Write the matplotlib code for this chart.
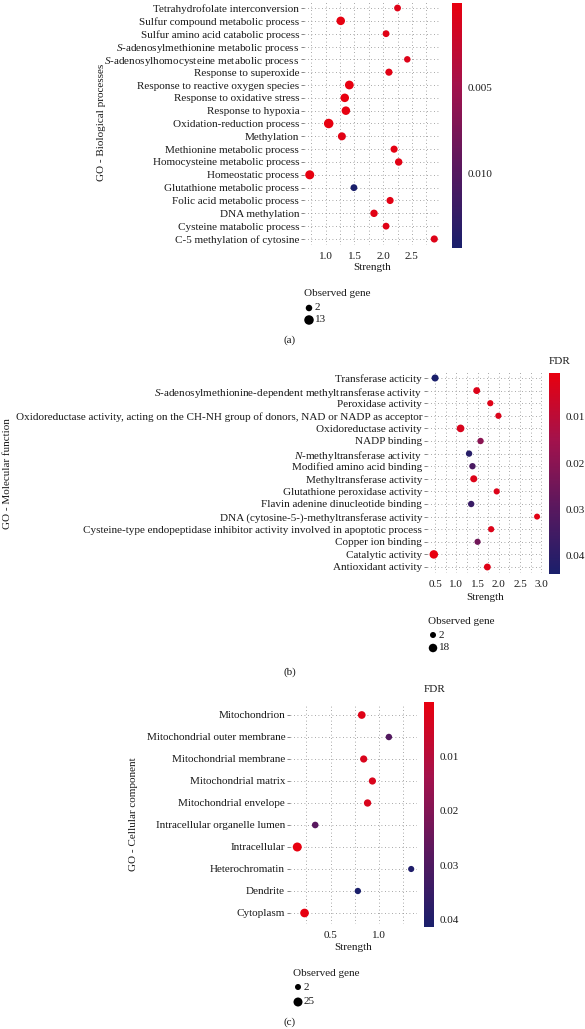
import numpy as np
import matplotlib
matplotlib.use("Agg")
import matplotlib.pyplot as plt
from matplotlib.colors import LinearSegmentedColormap, Normalize
from matplotlib.cm import ScalarMappable

plt.rcParams['font.family'] = ['Liberation Serif', 'DejaVu Serif']
plt.rcParams['mathtext.fontset'] = 'custom'
plt.rcParams['mathtext.rm'] = 'Liberation Serif'
plt.rcParams['mathtext.it'] = 'Liberation Serif:italic'

# ---------------- data (top-to-bottom order) ----------------
bp_terms = ["Tetrahydrofolate interconversion", "Sulfur compound metabolic process",
            "Sulfur amino acid catabolic process", r"$\mathit{S}$-adenosylmethionine metabolic process",
            r"$\mathit{S}$-adenosylhomocysteine metabolic process", "Response to superoxide",
            "Response to reactive oxygen species", "Response to oxidative stress",
            "Response to hypoxia", "Oxidation-reduction process", "Methylation",
            "Methionine metabolic process", "Homocysteine metabolic process",
            "Homeostatic process", "Glutathione metabolic process",
            "Folic acid metabolic process", "DNA methylation",
            "Cysteine matabolic process", "C-5 methylation of cytosine"]
bp_strength = [2.25, 1.26, 2.05, np.nan, 2.42, 2.10, 1.41, 1.33, 1.35, 1.05, 1.28,
               2.19, 2.27, 0.72, 1.49, 2.12, 1.84, 2.05, 2.89]
bp_genes = [3, 9, 3, 2, 2, 4, 10, 9, 9, 13, 7, 4, 5, 11, 3, 4, 5, 3, 4]
bp_fdr = [0.0008, 0.0003, 0.0006, 0.0010, 0.0009, 0.0005, 0.0002, 0.0001, 0.0003,
          0.0002, 0.0006, 0.0004, 0.0005, 0.0002, 0.0143, 0.0005, 0.0006, 0.0007, 0.0008]

mf_terms = ["Transferase acticity", r"$\mathit{S}$-adenosylmethionine-dependent methyltransferase activity",
            "Peroxidase activity",
            "Oxidoreductase activity, acting on the CH-NH group of donors, NAD or NADP as acceptor",
            "Oxidoreductase activity", "NADP binding", r"$\mathit{N}$-methyltransferase activity",
            "Modified amino acid binding", "Methyltransferase activity",
            "Glutathione peroxidase activity", "Flavin adenine dinucleotide binding",
            "DNA (cytosine-5-)-methyltransferase activity",
            "Cysteine-type endopeptidase inhibitor activity involved in apoptotic process",
            "Copper ion binding", "Catalytic activity", "Antioxidant activity"]
mf_strength = [0.50, 1.48, 1.80, 1.99, 1.10, 1.57, 1.30, 1.38, 1.41, 1.95, 1.35,
               2.90, 1.82, 1.50, 0.47, 1.73]
mf_genes = [8, 7, 3, 3, 12, 4, 4, 4, 8, 3, 4, 2, 3, 3, 18, 7]
mf_fdr = [0.0440, 0.0030, 0.0025, 0.0035, 0.0040, 0.0200, 0.0410, 0.0330, 0.0030,
          0.0030, 0.0370, 0.0020, 0.0030, 0.0250, 0.0005, 0.0025]

cc_terms = ["Mitochondrion", "Mitochondrial outer membrane", "Mitochondrial membrane",
            "Mitochondrial matrix", "Mitochondrial envelope", "Intracellular organelle lumen",
            "Intracellular", "Heterochromatin", "Dendrite", "Cytoplasm"]
cc_strength = [0.82, 1.10, 0.84, 0.93, 0.88, 0.34, 0.155, 1.33, 0.78, 0.23]
cc_genes = [14, 5, 10, 10, 11, 6, 25, 3, 4, 22]
cc_fdr = [0.0020, 0.0290, 0.0030, 0.0030, 0.0030, 0.0280, 0.0001, 0.0400, 0.0413, 0.0005]

# ---------------- helpers ----------------
W, H = 585, 1029
fig = plt.figure(figsize=(W / 100, H / 100), dpi=100)


def rect(x0, y0, x1, y1):
    return [x0 / W, 1 - y1 / H, (x1 - x0) / W, (y1 - y0) / H]


def fx(x):
    return x / W


def fy(y):
    return 1 - y / H


cmap = LinearSegmentedColormap.from_list("fdr", ["#E8000F", "#A3124C", "#5A185E", "#1A1F6B"])
TXT = "#1a1a1a"
FS = 8.0
GRID = dict(color="#8a8a8a", linewidth=0.6, linestyle=(0, (1, 3.2)))


def size_of(n, nmin, nmax, dmin, dmax):
    amin, amax = dmin ** 2, dmax ** 2
    a = amin + (np.asarray(n, float) - nmin) / (nmax - nmin) * (amax - amin)
    d_pt = np.sqrt(a) / 1.389
    return d_pt ** 2


def panel(terms, strength, genes, fdr, ax_px, xlim, majors, minors, cb_px, cb_ticks, cb_fmt,
          fdr_title, ylabel, ylabel_xy, xlab_y, leg_px, leg_labels, leg_gap, tag, tag_y, dmin, dmax):
    n = len(terms)
    ax = fig.add_axes(rect(*ax_px))
    ypos = np.arange(n)[::-1]
    norm = Normalize(vmin=min(fdr), vmax=max(fdr))
    nmin, nmax = leg_labels
    ax.set_xlim(*xlim)
    ax.set_ylim(-0.5, n - 0.5)
    for y in ypos:
        ax.axhline(y, zorder=0, **GRID)
    for x in list(majors) + list(minors):
        ax.axvline(x, zorder=0, **GRID)
    ax.scatter(strength, ypos, s=size_of(genes, nmin, nmax, dmin, dmax),
               c=cmap(norm(np.asarray(fdr))), edgecolors="none", zorder=3)
    for s in ax.spines.values():
        s.set_visible(False)
    ax.set_yticks(ypos)
    ax.set_yticklabels(terms, fontsize=FS, color=TXT)
    ax.set_xticks(majors)
    ax.set_xticklabels([f"{m:.1f}" for m in majors], fontsize=FS, color=TXT)
    ax.tick_params(axis="both", length=2.0, width=0.5, color="#555555", pad=1.5)
    ax.tick_params(axis="x", length=0, pad=5)
    ax.set_facecolor("none")
    cx = (ax_px[0] + ax_px[2]) / 2
    fig.text(fx(cx), fy(xlab_y), "Strength", ha="center", va="center", fontsize=FS, color=TXT)
    fig.text(fx(ylabel_xy[0]), fy(ylabel_xy[1]), ylabel, rotation=90, ha="center", va="center",
             fontsize=FS, color=TXT)
    cax = fig.add_axes(rect(*cb_px))
    sm = ScalarMappable(norm=norm, cmap=cmap)
    cb = fig.colorbar(sm, cax=cax)
    cb.outline.set_visible(False)
    cax.invert_yaxis()
    cb.set_ticks(cb_ticks)
    cb.set_ticklabels([cb_fmt.format(t) for t in cb_ticks])
    cax.tick_params(length=0, labelsize=FS, labelcolor=TXT, pad=4)
    if fdr_title:
        fig.text(fx(cb_px[0]), fy(cb_px[1] - 12), "FDR", ha="left", va="center",
                 fontsize=FS, color=TXT)
    lx, ly = leg_px
    fig.text(fx(lx), fy(ly), "Observed gene", ha="left", va="center", fontsize=FS, color=TXT)
    lax = fig.add_axes([0, 0, 1, 1], facecolor="none")
    lax.set_xlim(0, W)
    lax.set_ylim(H, 0)
    lax.axis("off")
    for i, v in enumerate(leg_labels):
        yy = ly + 14 + i * leg_gap
        lax.scatter([lx + 5], [yy], s=size_of([v], nmin, nmax, dmin, dmax), color="black",
                    edgecolors="none")
        lax.text(lx + 11, yy, str(v), ha="left", va="center", fontsize=FS, color=TXT)
    fig.text(fx(290), fy(tag_y), tag, ha="center", va="center", fontsize=FS, color=TXT)
    return ax


panel(bp_terms, bp_strength, bp_genes, bp_fdr,
      ax_px=(304, 1.6, 440, 245.4), xlim=(0.62, 2.99),
      majors=[1.0, 1.5, 2.0, 2.5], minors=[0.75, 1.25, 1.75, 2.25, 2.75],
      cb_px=(452, 3, 462, 248), cb_ticks=[0.005, 0.010], cb_fmt="{:.3f}",
      fdr_title=False, ylabel="GO - Biological processes", ylabel_xy=(101, 122),
      xlab_y=268, leg_px=(304, 294), leg_labels=(2, 13), leg_gap=12, tag="(a)", tag_y=340,
      dmin=6.5, dmax=9.5)

panel(mf_terms, mf_strength, mf_genes, mf_fdr,
      ax_px=(427, 371.7, 543, 573.3), xlim=(0.31, 3.04),
      majors=[0.5, 1.0, 1.5, 2.0, 2.5, 3.0], minors=[0.75, 1.25, 1.75, 2.25, 2.75],
      cb_px=(549, 373, 560, 574), cb_ticks=[0.01, 0.02, 0.03, 0.04], cb_fmt="{:.2f}",
      fdr_title=True, ylabel="GO - Molecular function", ylabel_xy=(8, 474),
      xlab_y=597, leg_px=(428, 621), leg_labels=(2, 18), leg_gap=13, tag="(b)", tag_y=672,
      dmin=6.0, dmax=8.5)

panel(cc_terms, cc_strength, cc_genes, cc_fdr,
      ax_px=(290, 704, 417, 924), xlim=(0.08, 1.39),
      majors=[0.5, 1.0], minors=[0.25, 0.75, 1.25],
      cb_px=(424, 702, 434, 927), cb_ticks=[0.01, 0.02, 0.03, 0.04], cb_fmt="{:.2f}",
      fdr_title=True, ylabel="GO - Cellular component", ylabel_xy=(134, 814),
      xlab_y=948, leg_px=(293, 973), leg_labels=(2, 25), leg_gap=15, tag="(c)", tag_y=1022,
      dmin=6.0, dmax=9.0)

fig.savefig("out.png", dpi=100)
